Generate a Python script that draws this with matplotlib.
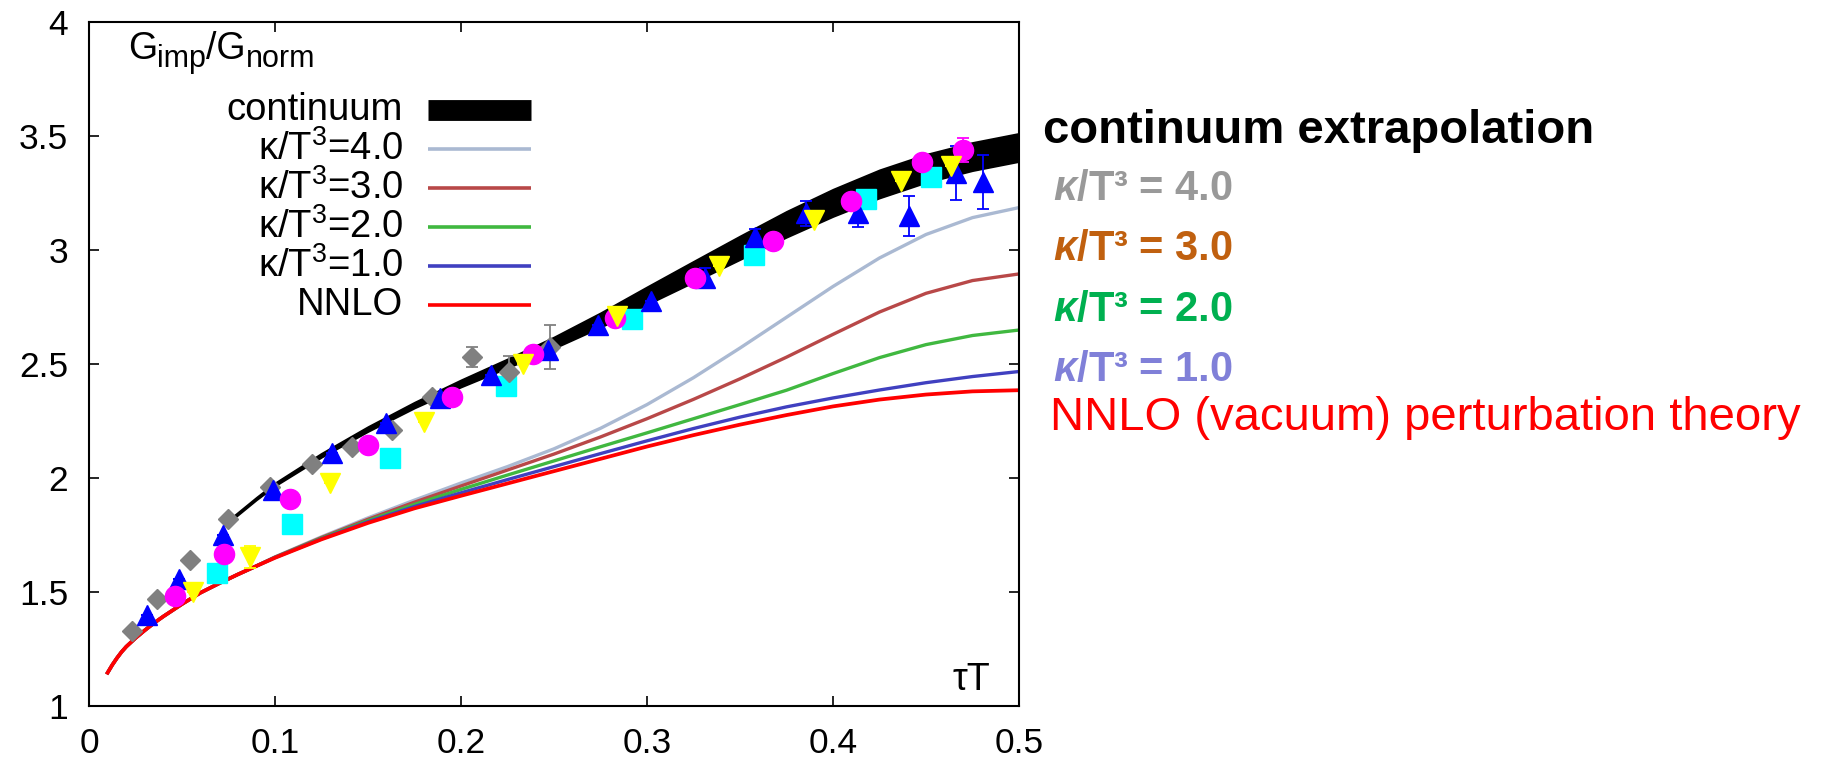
import numpy as np
import matplotlib
matplotlib.use('Agg')
import matplotlib.pyplot as plt

plt.rcParams['font.family'] = ['Liberation Sans', 'DejaVu Sans']
plt.rcParams['mathtext.fontset'] = 'custom'
plt.rcParams['mathtext.rm'] = 'Liberation Sans'
plt.rcParams['mathtext.it'] = 'Liberation Sans:italic:bold'
plt.rcParams['mathtext.bf'] = 'Liberation Sans:bold'

# continuum extrapolation band (centre and half width)
cont_x = [0.078, 0.09, 0.10, 0.125, 0.15, 0.175, 0.20, 0.225, 0.25, 0.275,
          0.30, 0.325, 0.35, 0.375, 0.40, 0.425, 0.45, 0.475, 0.50]
cont_mid = [1.83, 1.91, 1.972, 2.10, 2.215, 2.32, 2.415, 2.503, 2.594, 2.693,
            2.80, 2.905, 3.01, 3.113, 3.207, 3.29, 3.358, 3.41, 3.45]
cont_hw = [0.006, 0.006, 0.007, 0.009, 0.011, 0.013, 0.016, 0.020, 0.025, 0.032,
           0.039, 0.046, 0.052, 0.057, 0.060, 0.062, 0.062, 0.062, 0.062]

# model curves
curve_x = [0.010, 0.0125, 0.015, 0.0175, 0.020, 0.025, 0.030, 0.035, 0.040, 0.050,
           0.060, 0.070, 0.080, 0.090, 0.100, 0.125, 0.150, 0.175, 0.200, 0.225,
           0.250, 0.275, 0.300, 0.325, 0.350, 0.375, 0.400, 0.425, 0.450, 0.475, 0.500]
nnlo = [1.146, 1.18, 1.21, 1.237, 1.26, 1.298, 1.332, 1.364, 1.393, 1.447,
        1.497, 1.538, 1.577, 1.614, 1.650, 1.731, 1.803, 1.867, 1.922, 1.976,
        2.030, 2.084, 2.138, 2.188, 2.234, 2.276, 2.314, 2.344, 2.366, 2.380, 2.385]
kappa1 = [1.146, 1.18, 1.21, 1.237, 1.26, 1.298, 1.332, 1.364, 1.393, 1.447,
          1.497, 1.538, 1.577, 1.614, 1.651, 1.733, 1.808, 1.875, 1.935, 1.993,
          2.050, 2.107, 2.163, 2.217, 2.267, 2.312, 2.351, 2.386, 2.418, 2.445, 2.467]
kappa2 = [1.146, 1.18, 1.21, 1.237, 1.26, 1.298, 1.332, 1.364, 1.393, 1.447,
          1.497, 1.538, 1.577, 1.614, 1.652, 1.736, 1.813, 1.884, 1.950, 2.013,
          2.075, 2.137, 2.198, 2.260, 2.322, 2.385, 2.458, 2.528, 2.585, 2.625, 2.649]
kappa3 = [1.146, 1.18, 1.21, 1.237, 1.26, 1.298, 1.332, 1.364, 1.393, 1.447,
          1.497, 1.538, 1.577, 1.614, 1.653, 1.739, 1.819, 1.894, 1.965, 2.035,
          2.105, 2.180, 2.260, 2.345, 2.435, 2.530, 2.630, 2.728, 2.810, 2.866, 2.895]
kappa4 = [1.146, 1.18, 1.21, 1.237, 1.26, 1.298, 1.332, 1.364, 1.393, 1.447,
          1.497, 1.538, 1.577, 1.614, 1.654, 1.742, 1.825, 1.903, 1.978, 2.050,
          2.128, 2.218, 2.322, 2.440, 2.570, 2.705, 2.840, 2.965, 3.068, 3.142, 3.186]

# lattice data
gray_x = [0.0229, 0.0364, 0.0543, 0.0749, 0.0973, 0.1201, 0.1416, 0.1631, 0.1842, 0.2058, 0.226, 0.2478]
gray_y = [1.330, 1.469, 1.640, 1.819, 1.959, 2.060, 2.137, 2.211, 2.354, 2.530, 2.465, 2.574]
gray_e = [0, 0, 0, 0, 0, 0, 0, 0, 0, 0.044, 0.07, 0.098]

blue_x = [0.0310, 0.0484, 0.0722, 0.0991, 0.1305, 0.1595, 0.1887, 0.216, 0.2468, 0.2739, 0.3022,
          0.3313, 0.3581, 0.3856, 0.4133, 0.441, 0.466, 0.4805]
blue_y = [1.399, 1.556, 1.750, 1.947, 2.108, 2.240, 2.349, 2.450, 2.563, 2.673, 2.776,
          2.878, 3.059, 3.161, 3.161, 3.150, 3.339, 3.297]
blue_e = [0, 0, 0, 0, 0, 0, 0, 0, 0, 0, 0,
          0.044, 0.035, 0.055, 0.062, 0.088, 0.119, 0.118]

mag_x = [0.0462, 0.0726, 0.1081, 0.1502, 0.1950, 0.2386, 0.2828, 0.3259, 0.3680, 0.4096, 0.4477, 0.470]
mag_y = [1.482, 1.667, 1.906, 2.145, 2.354, 2.545, 2.702, 2.878, 3.040, 3.216, 3.385, 3.439]
mag_e = [0, 0, 0, 0, 0, 0, 0, 0, 0, 0, 0, 0.054]

yel_x = [0.0557, 0.0866, 0.1296, 0.1803, 0.2334, 0.2837, 0.3389, 0.3896, 0.4366, 0.4634]
yel_y = [1.501, 1.655, 1.977, 2.247, 2.498, 2.71, 2.930, 3.130, 3.303, 3.370]
yel_e = [0, 0.048, 0, 0, 0, 0, 0, 0, 0, 0]

cyan_x = [0.0690, 0.1090, 0.1618, 0.2242, 0.2917, 0.3574, 0.4180, 0.4528]
cyan_y = [1.585, 1.798, 2.089, 2.405, 2.699, 2.977, 3.223, 3.320]

xticks = [0, 0.1, 0.2, 0.3, 0.4, 0.5]
xtick_labels = ['0', '0.1', '0.2', '0.3', '0.4', '0.5']
yticks = [1, 1.5, 2, 2.5, 3, 3.5, 4]
ytick_labels = ['1', '1.5', '2', '2.5', '3', '3.5', '4']

legend_labels = ['continuum', 'κ/T$^{\\rm 3}$=4.0', 'κ/T$^{\\rm 3}$=3.0',
                 'κ/T$^{\\rm 3}$=2.0', 'κ/T$^{\\rm 3}$=1.0', 'NNLO']
side_labels = ['4.0', '3.0', '2.0', '1.0']

c_k4 = '#aab9d2'
c_k3 = '#b84848'
c_k2 = '#40b840'
c_k1 = '#4040c0'
c_nnlo = '#ff0000'
line_colors = ['black', c_k4, c_k3, c_k2, c_k1, c_nnlo]
side_colors = ['#999999', '#c0600f', '#00b050', '#8080d8']

fig = plt.figure(figsize=(18.27, 7.65), dpi=100)
ax = fig.add_axes([89/1827, 59/765, 930/1827, 684/765])

# band
cm = np.array(cont_mid)
ch = np.array(cont_hw)
ax.fill_between(cont_x, cm - ch, cm + ch, color='black', lw=1.2, zorder=2)

# curves
ax.plot(curve_x, kappa4, color=c_k4, lw=2.4, zorder=1)
ax.plot(curve_x, kappa3, color=c_k3, lw=2.4, zorder=1)
ax.plot(curve_x, kappa2, color=c_k2, lw=2.4, zorder=1)
ax.plot(curve_x, kappa1, color=c_k1, lw=2.4, zorder=1)
ax.plot(curve_x, nnlo, color=c_nnlo, lw=2.7, zorder=1.1)

# data
eb = dict(ls='none', capsize=4.5, elinewidth=1.3, capthick=1.3, zorder=3)
ax.errorbar(gray_x, gray_y, yerr=gray_e, fmt='D', ms=10.5, color='#808080', mec='#808080', **eb)
ax.errorbar(blue_x, blue_y, yerr=blue_e, fmt='^', ms=15, color='#0000ff', mec='#0000ff', **eb)
ax.errorbar(mag_x, mag_y, yerr=mag_e, fmt='o', ms=14.5, color='#ff00ff', mec='#ff00ff', **eb)
ax.errorbar(yel_x, yel_y, yerr=yel_e, fmt='v', ms=15, color='#ffff00', mec='#ffff00', **eb)
ax.plot(cyan_x, cyan_y, 's', ms=15, color='#00ffff', mec='#00ffff', zorder=3)

ax.set_xlim(0, 0.5)
ax.set_ylim(1, 4)
ax.set_xticks(xticks)
ax.set_xticklabels(xtick_labels)
ax.set_yticks(yticks)
ax.set_yticklabels(ytick_labels)
ax.tick_params(direction='in', length=7, width=1.2, top=True, right=True,
               labelsize=25.5, pad=15)
for s in ax.spines.values():
    s.set_linewidth(1.5)

# y label inside the frame, gnuplot-like subscripts
g1 = ax.text(0.042, 0.946, 'G', transform=ax.transAxes, fontsize=27, va='baseline')
s1 = ax.annotate('imp', xy=(1, 0), xycoords=g1, fontsize=22, va='baseline', ha='left')
g2 = ax.annotate('/G', xy=(1, 0), xycoords=(s1, g1), fontsize=27, va='bottom', ha='left')
ax.annotate('norm', xy=(1, 0), xycoords=g2, fontsize=22, va='baseline', ha='left')

ax.text(0.969, 0.023, 'τT', transform=ax.transAxes, fontsize=27, ha='right', va='baseline')

# key (gnuplot style: text on the left, sample on the right)
row_y = [0.8713, 0.8143, 0.7573, 0.7003, 0.6433, 0.5863]
for i, lab in enumerate(legend_labels):
    yy = row_y[i]
    ax.text(0.3376, yy, lab, transform=ax.transAxes, fontsize=27.5, ha='right', va='center')
    lw = 15 if i == 0 else 2.6
    ax.plot([0.3645, 0.4753], [yy, yy], transform=ax.transAxes, color=line_colors[i],
            lw=lw, solid_capstyle='butt', zorder=4)

# annotations on the right
fig.text(1043/1827, (765-143)/765, 'continuum extrapolation', fontsize=34,
         fontweight='bold', ha='left', va='baseline')
side_base = [200, 260, 321, 381]
for lab, col, b in zip(side_labels, side_colors, side_base):
    fig.text(1053/1827, (765-b)/765, r'$\kappa$/T³ = ' + lab, fontsize=30,
             fontweight='bold', color=col, ha='left', va='baseline')
fig.text(1050/1827, (765-430)/765, 'NNLO (vacuum) perturbation theory', fontsize=34,
         color='#ff0000', ha='left', va='baseline')

fig.savefig('out.png', dpi=100)
